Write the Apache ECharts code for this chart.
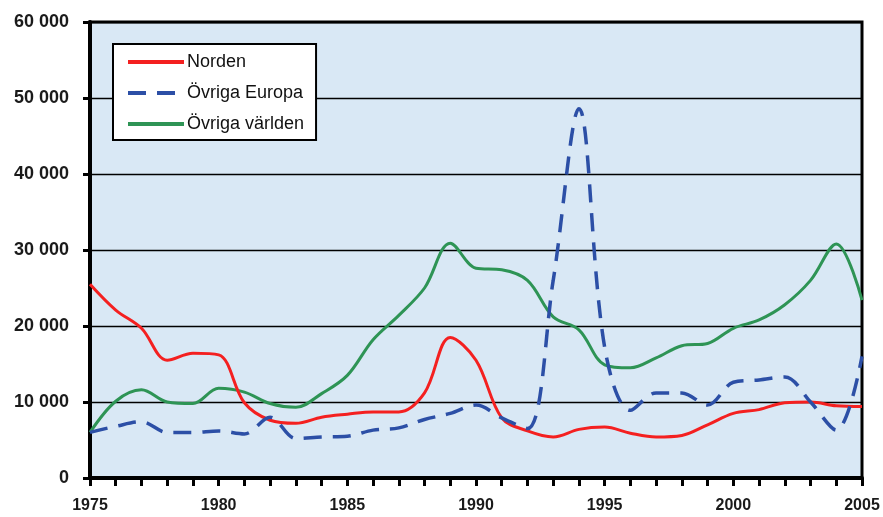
<!DOCTYPE html>
<html>
<head>
<meta charset="utf-8">
<script src="https://cdn.jsdelivr.net/npm/echarts@6/dist/echarts.min.js"></script>
<style>
html,body{margin:0;padding:0;background:#fff;}
#chart{width:883px;height:517px;}
</style>
</head>
<body>
<div id="chart"></div>
<script>
const years = [1975,1976,1977,1978,1979,1980,1981,1982,1983,1984,1985,1986,1987,1988,1989,1990,1991,1992,1993,1994,1995,1996,1997,1998,1999,2000,2001,2002,2003,2004,2005];
const norden = [25500,22100,19700,15500,16400,16200,9900,7600,7200,8000,8400,8700,8700,11200,18500,15500,7900,6200,5400,6400,6700,5900,5400,5600,7000,8500,9000,9900,10000,9500,9400];
const ovrigaEuropa = [6000,6800,7400,6000,6000,6200,5800,8000,5200,5400,5500,6300,6600,7700,8500,9600,7900,6500,26000,48600,17200,8900,11200,11200,9600,12600,12900,13300,10000,6300,16000];
const ovrigaVarlden = [6000,10100,11600,10000,9800,11800,11300,9800,9300,11100,13500,18200,21400,25000,30900,27600,27400,26000,21200,19500,14900,14500,15800,17400,17700,19700,20800,22800,26000,30800,23400];
const seriesNames = ['Norden','Övriga Europa','Övriga världen'];
const yTicks = [0,10000,20000,30000,40000,50000,60000];

function pairs(vals){ return years.map((y,i)=>[y, vals[i]]); }
function fmtThousands(v){ return String(v).replace(/\B(?=(\d{3})+(?!\d))/g,' '); }

const FONT = 'Liberation Sans, Arial, sans-serif';
const chart = echarts.init(document.getElementById('chart'), null, {renderer:'canvas'});
chart.setOption({
  animation:false,
  backgroundColor:'#ffffff',
  grid:{left:90,right:21,top:22,bottom:39,show:true,backgroundColor:'#d9e8f5',borderColor:'#000',borderWidth:3},
  legend:{
    orient:'vertical', left:113, top:44,
    backgroundColor:'#ffffff', borderColor:'#000', borderWidth:2,
    padding:[9,12,7,13], itemWidth:56, itemHeight:14, itemGap:13,
    itemStyle:{opacity:0},
    lineStyle:{width:4},
    textStyle:{fontFamily:FONT,fontSize:18,color:'#111',padding:[0,0,0,-2]},
    data:seriesNames
  },
  xAxis:{
    type:'value', min:1975, max:2005, interval:5,
    axisLine:{show:true,lineStyle:{color:'#000',width:4}},
    axisTick:{show:true,length:8,lineStyle:{color:'#000',width:3}},
    minorTick:{show:true,splitNumber:5,length:8,lineStyle:{color:'#000',width:3}},
    splitLine:{show:false},
    axisLabel:{formatter:v=>String(v),fontFamily:FONT,fontWeight:'bold',fontSize:16,color:'#1a1a1a',margin:20}
  },
  yAxis:{
    type:'value', min:yTicks[0], max:yTicks[yTicks.length-1], interval:10000,
    axisLine:{show:true,lineStyle:{color:'#000',width:4}},
    axisTick:{show:true,length:7,lineStyle:{color:'#000',width:3}},
    splitLine:{show:true,lineStyle:{color:'#000',width:1.3}},
    axisLabel:{formatter:fmtThousands,fontFamily:FONT,fontWeight:'bold',fontSize:18,color:'#1a1a1a',margin:21}
  },
  series:[
    {name:seriesNames[0],type:'line',data:pairs(norden),smooth:0.35,symbol:'none',z:3,
     lineStyle:{color:'#f42020',width:3},itemStyle:{color:'#f42020'}},
    {name:seriesNames[1],type:'line',data:pairs(ovrigaEuropa),smooth:0.35,symbol:'none',z:4,
     lineStyle:{color:'#2c4fa6',width:3.5,type:[18,11]},itemStyle:{color:'#2c4fa6'}},
    {name:seriesNames[2],type:'line',data:pairs(ovrigaVarlden),smooth:0.35,symbol:'none',z:2,
     lineStyle:{color:'#2e9455',width:3},itemStyle:{color:'#2e9455'}}
  ]
});
</script>
</body>
</html>
